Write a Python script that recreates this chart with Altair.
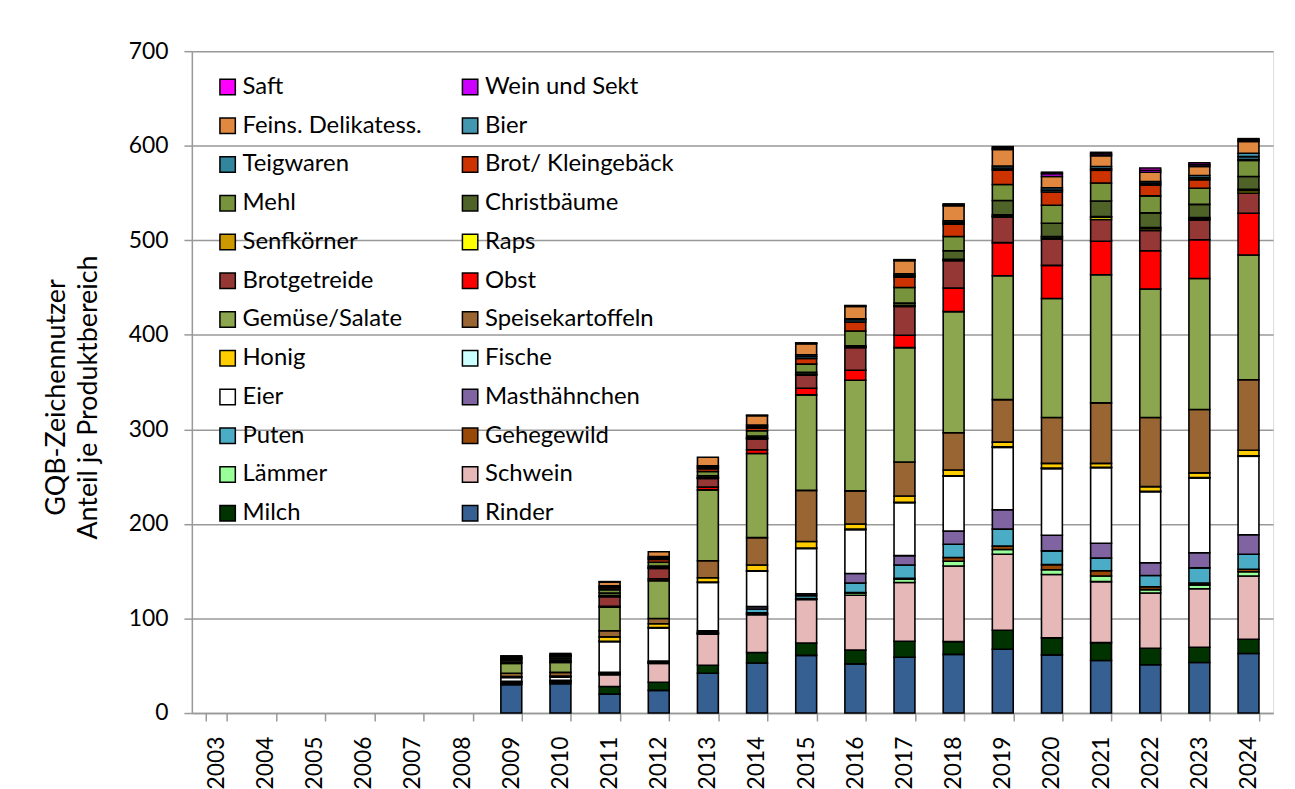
import altair as alt
import pandas as pd

years_all = list(range(2003, 2025))
years = list(range(2009, 2025))

# stacking order, bottom -> top
rinder       = [30, 31, 20, 24, 42, 53, 61, 52, 59, 62, 67.5, 61.5, 55.5, 51, 53.5, 63]
milch        = [1.5, 1.5, 8, 8.5, 8.5, 11, 13, 14.5, 17, 13.5, 20, 18, 19, 17.5, 16, 15]
schwein      = [1.5, 1.5, 12.5, 20, 33, 40, 46, 58, 62, 80, 80.5, 67, 64.5, 58.5, 62, 67]
laemmer      = [0, 0, 0.5, 0.5, 0.5, 1, 0.5, 2.5, 3.5, 5, 5, 5, 6, 3.5, 4, 4.5]
gehegewild   = [0.5, 0.5, 0.5, 0.5, 0.5, 1, 0.5, 0.5, 1, 4, 3.5, 5.5, 5.5, 3, 2, 2.5]
puten        = [0, 0, 0.5, 0.5, 1, 4, 3, 10, 14, 14, 18, 14.5, 13.5, 12, 16, 16]
masthaehnchen= [0, 0, 1, 1, 1.5, 2.5, 2, 10, 10, 14, 20.5, 16.5, 15.5, 13.5, 16, 20.5]
eier         = [4, 3.5, 32.5, 35, 51, 37.5, 48, 46.5, 56, 58, 66, 70.5, 80, 75, 79, 83]
fische       = [0, 0, 0.5, 0.5, 0.5, 0.5, 0.5, 0.5, 0.5, 0.5, 0.5, 0.5, 0.5, 0.5, 0.5, 0.5]
honig        = [1, 1, 4.5, 4, 4.5, 6, 7, 5.5, 6.5, 6, 5, 5, 4, 5, 5, 6]
speisekartoffeln = [3.5, 4, 6.5, 5.5, 18, 29, 54, 35, 36, 39.5, 45, 48.5, 64, 73, 67, 74.5]
gemuese      = [10.5, 10.5, 25, 40, 75, 89, 101, 117, 121, 128, 131, 126, 135.5, 136, 138.5, 132]
obst         = [0, 0.5, 1, 2, 3, 4, 7, 10.5, 13, 25, 35, 35, 35.5, 40.5, 41, 44]
brotgetreide = [1.5, 1.5, 10, 11, 9, 11.5, 14, 24, 30.5, 29, 27, 28, 23, 21.5, 21, 21.5]
raps         = [0, 0, 0.5, 0.5, 0.5, 0.5, 0.5, 0.5, 0.5, 0.5, 1, 2, 2.5, 2, 1, 2.5]
senfkoerner  = [0, 0, 0.5, 0.5, 0.5, 0.5, 0.5, 0.5, 0.5, 1, 1.5, 0.5, 0.5, 1, 1.5, 1.5]
christbaeume = [2, 2, 3, 1.5, 2, 2, 2, 1, 2.5, 9, 15, 14, 16.5, 15.5, 14, 13.5]
mehl         = [1.5, 2, 3.5, 4, 4.5, 5.5, 8.5, 15.5, 16.5, 15, 17, 19, 19, 18, 17, 17]
brot         = [1, 1, 2, 3, 3, 3, 6, 9.5, 11, 13, 15.5, 14, 13.5, 11.5, 9, 1]
teigwaren    = [0, 0.5, 1, 1.5, 1.5, 1.5, 2, 2.5, 1.5, 1.5, 2, 2, 1.5, 1.5, 2, 3]
bier         = [0.5, 0.5, 1, 1.5, 1.5, 1.5, 2, 1, 2, 2, 2, 2.5, 2.5, 2, 2.5, 3.5]
feinkost     = [1.5, 1.5, 4, 5, 9, 10, 11.5, 13, 14, 16, 17.5, 12, 11.5, 10, 9.5, 12.5]
wein         = [0, 0, 0.5, 0, 0, 0.5, 0.5, 0.5, 0.5, 1, 1.5, 3, 2, 2, 2, 1.5]
saft         = [0, 0, 0, 0, 0, 0, 0.5, 0.5, 0.5, 1, 1.5, 1.5, 1.5, 2.5, 2, 1.5]

series_names = ["Rinder", "Milch", "Schwein", "Lämmer", "Gehegewild", "Puten",
                "Masthähnchen", "Eier", "Fische", "Honig", "Speisekartoffeln",
                "Gemüse/Salate", "Obst", "Brotgetreide", "Raps", "Senfkörner",
                "Christbäume", "Mehl", "Brot/ Kleingebäck", "Teigwaren", "Bier",
                "Feins. Delikatess.", "Wein und Sekt", "Saft"]
series_values = [rinder, milch, schwein, laemmer, gehegewild, puten, masthaehnchen,
                 eier, fische, honig, speisekartoffeln, gemuese, obst, brotgetreide,
                 raps, senfkoerner, christbaeume, mehl, brot, teigwaren, bier,
                 feinkost, wein, saft]
series_colors = ["#376092", "#003300", "#E6B9B8", "#99FF99", "#984807", "#4BACC6",
                 "#8064A2", "#FFFFFF", "#CCFFFF", "#FFCC00", "#996633",
                 "#8BA64E", "#FF0000", "#953735", "#FFFF00", "#CC9900",
                 "#4F6228", "#77933C", "#CC3300", "#31859C", "#4396B0",
                 "#E0883F", "#CC00FF", "#FF00FF"]

# legend: two columns, filled column by column
rev = series_names[::-1]
legend_order = rev[0::2] + rev[1::2]
legend_colors = [series_colors[series_names.index(n)] for n in legend_order]

rows = []
for idx, (name, vals) in enumerate(zip(series_names, series_values)):
    for y, v in zip(years, vals):
        rows.append({"year": y, "series": name, "value": v, "idx": idx})
df = pd.DataFrame(rows)

FONT = "Lato"

chart = alt.Chart(df).transform_filter(
    "datum.value > 0"
).mark_bar(stroke="black", strokeWidth=1.6).encode(
    x=alt.X("year:O",
            scale=alt.Scale(domain=years_all, paddingInner=0.575, paddingOuter=0.2875,
                            round=False),
            axis=alt.Axis(title=None, labelAngle=-90, labelFontSize=23, labelFont=FONT,
                          labelColor="black", tickBand="extent", tickSize=8,
                          tickColor="#999999", domainColor="#999999", domainWidth=1.5,
                          tickWidth=1.5, labelPadding=15, grid=False)),
    y=alt.Y("value:Q", stack="zero",
            scale=alt.Scale(domain=[0, 700], nice=False),
            axis=alt.Axis(values=[0, 100, 200, 300, 400, 500, 600, 700],
                          title=["GQB-Zeichennutzer", "Anteil je Produktbereich"],
                          titleFontSize=27, titleFont=FONT, titleFontWeight="normal",
                          titleColor="black", titleX=-136, titleY=348,
                          titleLineHeight=32, titleAlign="center", titleBaseline="middle",
                          labelFontSize=23, labelFont=FONT, labelColor="black",
                          labelPadding=16, tickSize=8, tickColor="#999999",
                          tickWidth=1.5, domainColor="#999999", domainWidth=1.5,
                          gridColor="#999999", gridWidth=1.5)),
    color=alt.Color("series:N",
                    scale=alt.Scale(domain=legend_order, range=legend_colors),
                    legend=alt.Legend(title=None, orient="none", legendX=24, legendY=24,
                                      columns=2, symbolType="square", symbolSize=240,
                                      symbolStrokeColor="black", symbolStrokeWidth=1.5,
                                      symbolOpacity=1, labelFontSize=24, labelFont=FONT,
                                      labelColor="black", labelLimit=400, rowPadding=15,
                                      columnPadding=36, labelOffset=3, padding=0)),
    order=alt.Order("idx:Q", sort="ascending"),
).properties(
    width=1088, height=666,
    autosize=alt.AutoSizeParams(type="none"),
    padding={"left": 185, "top": 41, "right": 14, "bottom": 74},
).configure_view(stroke=None).configure(font=FONT)

chart.save("out.html", embed_options={"renderer": "svg", "actions": False})
